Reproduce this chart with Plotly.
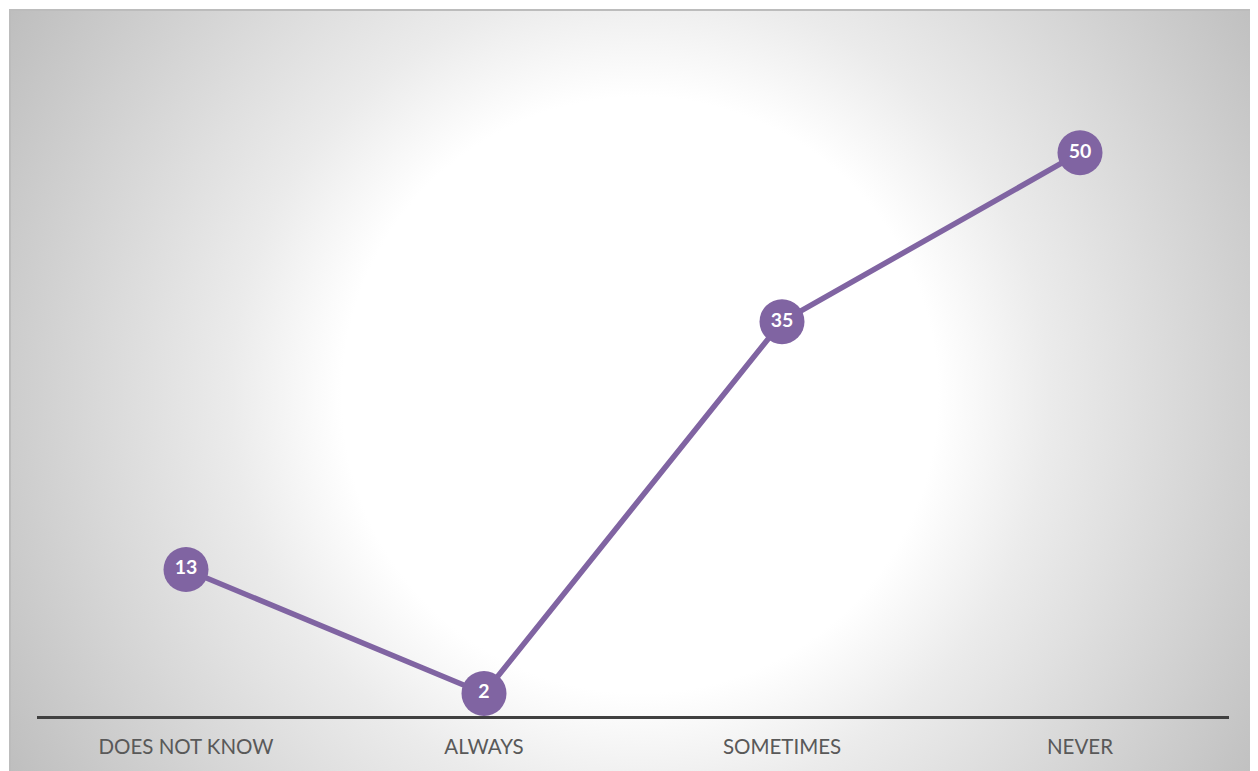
import base64
import plotly.graph_objects as go

categories = ["DOES NOT KNOW", "ALWAYS", "SOMETIMES", "NEVER"]
values = [13, 2, 35, 50]

# page has an 8px body margin; figure is drawn at offset (8, 8)
OFF = 8
W, H = 1250, 763
L, R, T, B = 29, 29, 32, 55
pw, ph = W - L - R, H - T - B

# background chart area (radial gradient) as an SVG image
bx0, by0 = 9 - OFF, 9 - OFF
bw, bh = W - bx0, H - by0
cx, cy = 640 - OFF - bx0, 395 - OFF - by0
svg = f'''<svg xmlns="http://www.w3.org/2000/svg" width="{bw}" height="{bh}" viewBox="0 0 {bw} {bh}" preserveAspectRatio="none">
<defs><radialGradient id="g" gradientUnits="userSpaceOnUse" cx="{cx}" cy="{cy}" r="745">
<stop offset="0" stop-color="#ffffff"/>
<stop offset="0.40" stop-color="#ffffff"/>
<stop offset="0.55" stop-color="#ebebeb"/>
<stop offset="1" stop-color="#bdbdbd"/>
</radialGradient></defs>
<rect x="0" y="0" width="{bw}" height="{bh}" fill="url(#g)"/>
<line x1="0" y1="1" x2="{bw}" y2="1" stroke="#bcbcbc" stroke-width="2"/>
<line x1="1" y1="0" x2="1" y2="{bh}" stroke="#bcbcbc" stroke-width="2"/>
</svg>'''
src = "data:image/svg+xml;base64," + base64.b64encode(svg.encode()).decode()

fig = go.Figure()
fig.add_trace(go.Scatter(
    x=categories, y=values, mode="lines+markers+text",
    line=dict(color="#8064A2", width=5.5),
    marker=dict(size=45, color="#8064A2"),
    text=[str(v) for v in values], textposition="middle center",
    textfont=dict(family="Lato", size=19.5, color="white", weight="bold"),
    cliponaxis=False, hoverinfo="skip",
))

fig.update_layout(
    width=W, height=H,
    margin=dict(l=L, r=R, t=T, b=B),
    paper_bgcolor="white", plot_bgcolor="rgba(0,0,0,0)",
    showlegend=False,
    images=[dict(
        source=src, xref="paper", yref="paper",
        x=(bx0 - L) / pw, y=(H - B - by0) / ph,
        sizex=bw / pw, sizey=bh / ph,
        xanchor="left", yanchor="top", sizing="stretch", layer="below",
    )],
    xaxis=dict(
        type="category", range=[-0.5, 3.5], showgrid=False, zeroline=False,
        showline=True, linecolor="#404040", linewidth=3,
        ticks="outside", ticklen=10, tickcolor="rgba(0,0,0,0)",
        tickfont=dict(family="Lato", size=20.5, color="#595959"),
        layer="below traces", fixedrange=True,
    ),
    yaxis=dict(range=[0, 60], visible=False, fixedrange=True),
)

fig.write_html("out.html")
